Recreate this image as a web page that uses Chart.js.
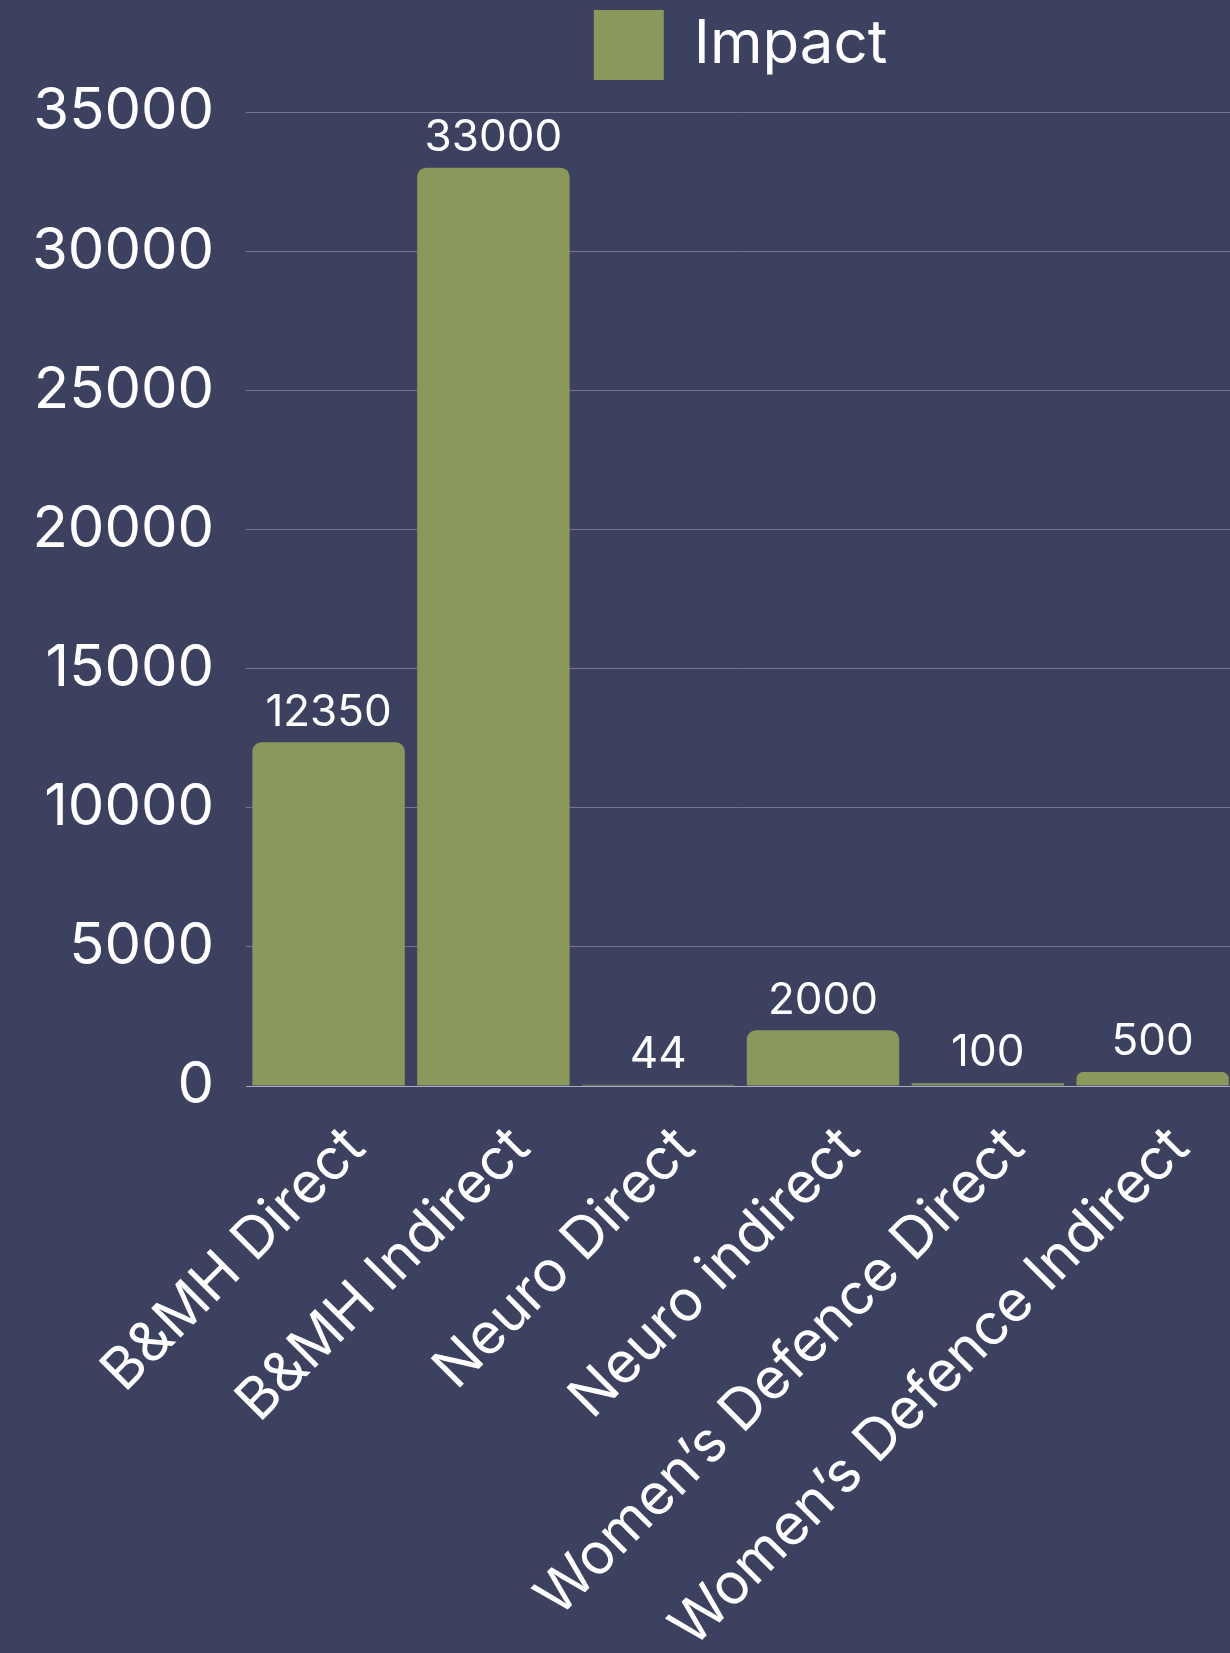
<!DOCTYPE html>
<html lang="en">
<head>
    <meta charset="UTF-8">
    <title>Impact</title>
    <style>
        html, body { margin: 0; padding: 0; background: #3d4160; overflow: hidden; }
        #wrap { width: 1235px; height: 1653px; }
    </style>
</head>
<body>
    <div id="wrap">
        <canvas id="myChart"></canvas>
    </div>

    <script src="https://cdn.jsdelivr.net/npm/chart.js"></script>
    <script>
        const v_labels = ['B&MH Direct', 'B&MH Indirect', 'Neuro Direct', 'Neuro indirect', "Women’s Defence Direct", "Women’s Defence Indirect"];
        const v_impact = [12350, 33000, 44, 2000, 100, 500];
        const v_yTicks = [0, 5000, 10000, 15000, 20000, 25000, 30000, 35000];

        const FONT = 'Inter, "Noto Sans", sans-serif';

        // value above each bar
        const valueLabels = {
            id: 'valueLabels',
            afterDatasetsDraw(chart) {
                const c = chart.ctx;
                const meta = chart.getDatasetMeta(0);
                c.save();
                c.fillStyle = '#ffffff';
                c.font = '44px ' + FONT;
                c.textAlign = 'center';
                c.textBaseline = 'bottom';
                meta.data.forEach((bar, i) => {
                    c.fillText(String(v_impact[i]), bar.x, bar.y - 8);
                });
                c.restore();
            }
        };

        // extra room between legend and plot
        const legendGap = {
            id: 'legendGap',
            beforeInit(chart) {
                const fit = chart.legend.fit;
                chart.legend.fit = function () {
                    fit.bind(chart.legend)();
                    this.height += 22;
                };
            }
        };

        const ctx = document.querySelector('#myChart');
        new Chart(ctx, {
            type: 'bar',
            data: {
                labels: v_labels,
                datasets: [{
                    label: 'Impact',
                    data: v_impact,
                    backgroundColor: '#8a995b',
                    borderRadius: { topLeft: 9, topRight: 9 },
                    borderSkipped: 'bottom',
                    barPercentage: 1,
                    categoryPercentage: 0.925
                }]
            },
            options: {
                responsive: true,
                maintainAspectRatio: false,
                animation: false,
                plugins: {
                    legend: {
                        fullSize: false,
                        labels: {
                            color: '#ffffff',
                            boxWidth: 70,
                            boxHeight: 70,
                            padding: 10,
                            font: { family: FONT, size: 60 }
                        }
                    },
                    tooltip: { enabled: false }
                },
                scales: {
                    x: {
                        grid: { display: false },
                        border: { color: '#a9acc6', width: 1 },
                        afterFit(axis) {
                            axis.height = 567;
                        },
                        ticks: {
                            color: '#ffffff',
                            maxRotation: 45,
                            minRotation: 45,
                            padding: 20,
                            labelOffset: 27,
                            font: { family: FONT, size: 57 }
                        }
                    },
                    y: {
                        min: 0,
                        max: 35000,
                        afterBuildTicks(axis) {
                            axis.ticks = v_yTicks.map(v => ({ value: v }));
                        },
                        grid: { color: 'rgba(255,255,255,0.28)', drawTicks: false },
                        border: { display: false },
                        ticks: {
                            color: '#ffffff',
                            padding: 32,
                            font: { family: FONT, size: 58 },
                            callback: (value) => String(value)
                        }
                    }
                }
            },
            plugins: [valueLabels, legendGap]
        });
    </script>
</body>
</html>
